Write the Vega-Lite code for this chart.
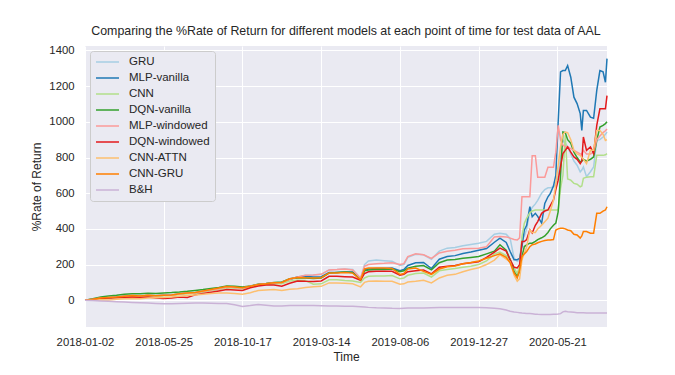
{
  "$schema": "https://vega.github.io/schema/vega-lite/v6.json",
  "width": 522,
  "height": 281,
  "autosize": {"type": "none"},
  "padding": {"left": 85, "top": 46, "right": 68, "bottom": 48},
  "title": {"text": "Comparing the %Rate of Return for different models at each point of time for test data of AAL", "fontSize": 12.4, "fontWeight": "normal", "color": "#262626", "font": "Liberation Sans", "offset": 7},
  "data": {"values": [
    {"t":0,"GRU":0,"MLP-vanilla":0,"CNN":0,"DQN-vanilla":0,"MLP-windowed":0,"DQN-windowed":0,"CNN-ATTN":0,"CNN-GRU":0,"B&H":0},
    {"t":10,"GRU":5,"MLP-vanilla":5,"CNN":4,"DQN-vanilla":8,"MLP-windowed":5,"DQN-windowed":4,"CNN-ATTN":0,"CNN-GRU":5,"B&H":-2},
    {"t":20,"GRU":12,"MLP-vanilla":12,"CNN":10,"DQN-vanilla":18,"MLP-windowed":12,"DQN-windowed":10,"CNN-ATTN":3,"CNN-GRU":12,"B&H":-4},
    {"t":30,"GRU":15,"MLP-vanilla":15,"CNN":13,"DQN-vanilla":24,"MLP-windowed":15,"DQN-windowed":12,"CNN-ATTN":2,"CNN-GRU":15,"B&H":-6},
    {"t":40,"GRU":18,"MLP-vanilla":18,"CNN":15,"DQN-vanilla":28,"MLP-windowed":18,"DQN-windowed":14,"CNN-ATTN":5,"CNN-GRU":18,"B&H":-8},
    {"t":50,"GRU":22,"MLP-vanilla":22,"CNN":19,"DQN-vanilla":33,"MLP-windowed":22,"DQN-windowed":16,"CNN-ATTN":8,"CNN-GRU":22,"B&H":-10},
    {"t":60,"GRU":26,"MLP-vanilla":25,"CNN":22,"DQN-vanilla":37,"MLP-windowed":26,"DQN-windowed":18,"CNN-ATTN":10,"CNN-GRU":26,"B&H":-12},
    {"t":70,"GRU":24,"MLP-vanilla":24,"CNN":22,"DQN-vanilla":36,"MLP-windowed":24,"DQN-windowed":15,"CNN-ATTN":8,"CNN-GRU":24,"B&H":-14},
    {"t":80,"GRU":27,"MLP-vanilla":27,"CNN":25,"DQN-vanilla":39,"MLP-windowed":27,"DQN-windowed":18,"CNN-ATTN":12,"CNN-GRU":28,"B&H":-16},
    {"t":90,"GRU":25,"MLP-vanilla":25,"CNN":22,"DQN-vanilla":38,"MLP-windowed":25,"DQN-windowed":12,"CNN-ATTN":14,"CNN-GRU":25,"B&H":-18},
    {"t":100,"GRU":28,"MLP-vanilla":28,"CNN":25,"DQN-vanilla":41,"MLP-windowed":28,"DQN-windowed":10,"CNN-ATTN":16,"CNN-GRU":28,"B&H":-20},
    {"t":110,"GRU":30,"MLP-vanilla":30,"CNN":27,"DQN-vanilla":43,"MLP-windowed":30,"DQN-windowed":12,"CNN-ATTN":18,"CNN-GRU":30,"B&H":-19},
    {"t":120,"GRU":35,"MLP-vanilla":35,"CNN":32,"DQN-vanilla":46,"MLP-windowed":35,"DQN-windowed":18,"CNN-ATTN":22,"CNN-GRU":36,"B&H":-18},
    {"t":130,"GRU":40,"MLP-vanilla":40,"CNN":36,"DQN-vanilla":50,"MLP-windowed":40,"DQN-windowed":15,"CNN-ATTN":26,"CNN-GRU":40,"B&H":-17},
    {"t":140,"GRU":42,"MLP-vanilla":42,"CNN":38,"DQN-vanilla":55,"MLP-windowed":42,"DQN-windowed":30,"CNN-ATTN":30,"CNN-GRU":44,"B&H":-16},
    {"t":150,"GRU":50,"MLP-vanilla":50,"CNN":46,"DQN-vanilla":60,"MLP-windowed":50,"DQN-windowed":38,"CNN-ATTN":34,"CNN-GRU":52,"B&H":-16},
    {"t":160,"GRU":58,"MLP-vanilla":58,"CNN":54,"DQN-vanilla":66,"MLP-windowed":58,"DQN-windowed":45,"CNN-ATTN":38,"CNN-GRU":60,"B&H":-17},
    {"t":170,"GRU":65,"MLP-vanilla":65,"CNN":60,"DQN-vanilla":72,"MLP-windowed":65,"DQN-windowed":52,"CNN-ATTN":40,"CNN-GRU":68,"B&H":-18},
    {"t":180,"GRU":75,"MLP-vanilla":75,"CNN":70,"DQN-vanilla":80,"MLP-windowed":75,"DQN-windowed":60,"CNN-ATTN":40,"CNN-GRU":77,"B&H":-18},
    {"t":190,"GRU":72,"MLP-vanilla":72,"CNN":68,"DQN-vanilla":78,"MLP-windowed":72,"DQN-windowed":58,"CNN-ATTN":38,"CNN-GRU":74,"B&H":-25},
    {"t":200,"GRU":68,"MLP-vanilla":68,"CNN":65,"DQN-vanilla":74,"MLP-windowed":68,"DQN-windowed":55,"CNN-ATTN":33,"CNN-GRU":70,"B&H":-35},
    {"t":210,"GRU":78,"MLP-vanilla":78,"CNN":74,"DQN-vanilla":80,"MLP-windowed":78,"DQN-windowed":70,"CNN-ATTN":42,"CNN-GRU":78,"B&H":-30},
    {"t":220,"GRU":88,"MLP-vanilla":88,"CNN":84,"DQN-vanilla":90,"MLP-windowed":88,"DQN-windowed":80,"CNN-ATTN":55,"CNN-GRU":88,"B&H":-24},
    {"t":230,"GRU":92,"MLP-vanilla":92,"CNN":88,"DQN-vanilla":94,"MLP-windowed":92,"DQN-windowed":85,"CNN-ATTN":58,"CNN-GRU":92,"B&H":-28},
    {"t":240,"GRU":98,"MLP-vanilla":98,"CNN":92,"DQN-vanilla":100,"MLP-windowed":98,"DQN-windowed":85,"CNN-ATTN":60,"CNN-GRU":98,"B&H":-32},
    {"t":250,"GRU":100,"MLP-vanilla":100,"CNN":92,"DQN-vanilla":102,"MLP-windowed":100,"DQN-windowed":78,"CNN-ATTN":55,"CNN-GRU":100,"B&H":-32},
    {"t":260,"GRU":118,"MLP-vanilla":118,"CNN":108,"DQN-vanilla":120,"MLP-windowed":118,"DQN-windowed":95,"CNN-ATTN":62,"CNN-GRU":120,"B&H":-30},
    {"t":270,"GRU":130,"MLP-vanilla":130,"CNN":112,"DQN-vanilla":125,"MLP-windowed":130,"DQN-windowed":108,"CNN-ATTN":65,"CNN-GRU":128,"B&H":-30},
    {"t":280,"GRU":140,"MLP-vanilla":135,"CNN":110,"DQN-vanilla":125,"MLP-windowed":140,"DQN-windowed":106,"CNN-ATTN":72,"CNN-GRU":126,"B&H":-30},
    {"t":290,"GRU":142,"MLP-vanilla":130,"CNN":90,"DQN-vanilla":122,"MLP-windowed":142,"DQN-windowed":105,"CNN-ATTN":75,"CNN-GRU":125,"B&H":-30},
    {"t":300,"GRU":145,"MLP-vanilla":132,"CNN":92,"DQN-vanilla":125,"MLP-windowed":145,"DQN-windowed":108,"CNN-ATTN":78,"CNN-GRU":126,"B&H":-31},
    {"t":310,"GRU":170,"MLP-vanilla":155,"CNN":115,"DQN-vanilla":152,"MLP-windowed":170,"DQN-windowed":134,"CNN-ATTN":97,"CNN-GRU":153,"B&H":-32},
    {"t":320,"GRU":172,"MLP-vanilla":155,"CNN":115,"DQN-vanilla":155,"MLP-windowed":172,"DQN-windowed":134,"CNN-ATTN":97,"CNN-GRU":153,"B&H":-32},
    {"t":330,"GRU":175,"MLP-vanilla":158,"CNN":110,"DQN-vanilla":158,"MLP-windowed":175,"DQN-windowed":132,"CNN-ATTN":95,"CNN-GRU":155,"B&H":-33},
    {"t":340,"GRU":172,"MLP-vanilla":158,"CNN":108,"DQN-vanilla":156,"MLP-windowed":170,"DQN-windowed":130,"CNN-ATTN":92,"CNN-GRU":152,"B&H":-34},
    {"t":350,"GRU":120,"MLP-vanilla":115,"CNN":100,"DQN-vanilla":115,"MLP-windowed":125,"DQN-windowed":112,"CNN-ATTN":75,"CNN-GRU":115,"B&H":-36},
    {"t":355,"GRU":200,"MLP-vanilla":170,"CNN":125,"DQN-vanilla":165,"MLP-windowed":190,"DQN-windowed":150,"CNN-ATTN":100,"CNN-GRU":175,"B&H":-38},
    {"t":360,"GRU":220,"MLP-vanilla":175,"CNN":134,"DQN-vanilla":170,"MLP-windowed":200,"DQN-windowed":160,"CNN-ATTN":106,"CNN-GRU":180,"B&H":-40},
    {"t":370,"GRU":225,"MLP-vanilla":178,"CNN":136,"DQN-vanilla":172,"MLP-windowed":205,"DQN-windowed":162,"CNN-ATTN":108,"CNN-GRU":180,"B&H":-42},
    {"t":380,"GRU":222,"MLP-vanilla":178,"CNN":136,"DQN-vanilla":172,"MLP-windowed":207,"DQN-windowed":162,"CNN-ATTN":106,"CNN-GRU":180,"B&H":-43},
    {"t":390,"GRU":218,"MLP-vanilla":180,"CNN":138,"DQN-vanilla":175,"MLP-windowed":210,"DQN-windowed":162,"CNN-ATTN":106,"CNN-GRU":178,"B&H":-45},
    {"t":400,"GRU":195,"MLP-vanilla":165,"CNN":120,"DQN-vanilla":160,"MLP-windowed":200,"DQN-windowed":140,"CNN-ATTN":90,"CNN-GRU":145,"B&H":-46},
    {"t":405,"GRU":200,"MLP-vanilla":172,"CNN":125,"DQN-vanilla":165,"MLP-windowed":205,"DQN-windowed":145,"CNN-ATTN":92,"CNN-GRU":150,"B&H":-45},
    {"t":410,"GRU":240,"MLP-vanilla":195,"CNN":140,"DQN-vanilla":180,"MLP-windowed":245,"DQN-windowed":160,"CNN-ATTN":102,"CNN-GRU":175,"B&H":-44},
    {"t":420,"GRU":258,"MLP-vanilla":210,"CNN":150,"DQN-vanilla":190,"MLP-windowed":260,"DQN-windowed":165,"CNN-ATTN":106,"CNN-GRU":180,"B&H":-43},
    {"t":430,"GRU":255,"MLP-vanilla":212,"CNN":152,"DQN-vanilla":194,"MLP-windowed":255,"DQN-windowed":170,"CNN-ATTN":112,"CNN-GRU":162,"B&H":-43},
    {"t":440,"GRU":230,"MLP-vanilla":178,"CNN":130,"DQN-vanilla":170,"MLP-windowed":235,"DQN-windowed":148,"CNN-ATTN":97,"CNN-GRU":145,"B&H":-42},
    {"t":450,"GRU":275,"MLP-vanilla":230,"CNN":165,"DQN-vanilla":210,"MLP-windowed":265,"DQN-windowed":185,"CNN-ATTN":125,"CNN-GRU":175,"B&H":-41},
    {"t":460,"GRU":292,"MLP-vanilla":245,"CNN":172,"DQN-vanilla":225,"MLP-windowed":275,"DQN-windowed":190,"CNN-ATTN":140,"CNN-GRU":188,"B&H":-40},
    {"t":470,"GRU":295,"MLP-vanilla":250,"CNN":178,"DQN-vanilla":228,"MLP-windowed":280,"DQN-windowed":195,"CNN-ATTN":145,"CNN-GRU":192,"B&H":-40},
    {"t":480,"GRU":305,"MLP-vanilla":262,"CNN":185,"DQN-vanilla":235,"MLP-windowed":288,"DQN-windowed":205,"CNN-ATTN":160,"CNN-GRU":205,"B&H":-40},
    {"t":490,"GRU":312,"MLP-vanilla":270,"CNN":190,"DQN-vanilla":240,"MLP-windowed":290,"DQN-windowed":210,"CNN-ATTN":172,"CNN-GRU":212,"B&H":-40},
    {"t":500,"GRU":320,"MLP-vanilla":280,"CNN":200,"DQN-vanilla":245,"MLP-windowed":292,"DQN-windowed":215,"CNN-ATTN":182,"CNN-GRU":220,"B&H":-41},
    {"t":510,"GRU":330,"MLP-vanilla":290,"CNN":220,"DQN-vanilla":260,"MLP-windowed":300,"DQN-windowed":240,"CNN-ATTN":200,"CNN-GRU":235,"B&H":-42},
    {"t":520,"GRU":370,"MLP-vanilla":325,"CNN":260,"DQN-vanilla":275,"MLP-windowed":355,"DQN-windowed":270,"CNN-ATTN":225,"CNN-GRU":250,"B&H":-45},
    {"t":527,"GRU":376,"MLP-vanilla":348,"CNN":270,"DQN-vanilla":311,"MLP-windowed":357,"DQN-windowed":292,"CNN-ATTN":255,"CNN-GRU":260,"B&H":-48},
    {"t":535,"GRU":370,"MLP-vanilla":324,"CNN":250,"DQN-vanilla":280,"MLP-windowed":355,"DQN-windowed":275,"CNN-ATTN":230,"CNN-GRU":240,"B&H":-55},
    {"t":540,"GRU":345,"MLP-vanilla":273,"CNN":230,"DQN-vanilla":227,"MLP-windowed":348,"DQN-windowed":227,"CNN-ATTN":215,"CNN-GRU":210,"B&H":-62},
    {"t":545,"GRU":236,"MLP-vanilla":227,"CNN":180,"DQN-vanilla":160,"MLP-windowed":340,"DQN-windowed":185,"CNN-ATTN":140,"CNN-GRU":153,"B&H":-66},
    {"t":549,"GRU":218,"MLP-vanilla":227,"CNN":150,"DQN-vanilla":134,"MLP-windowed":338,"DQN-windowed":181,"CNN-ATTN":106,"CNN-GRU":125,"B&H":-68},
    {"t":552,"GRU":225,"MLP-vanilla":235,"CNN":190,"DQN-vanilla":160,"MLP-windowed":350,"DQN-windowed":200,"CNN-ATTN":120,"CNN-GRU":170,"B&H":-70},
    {"t":555,"GRU":338,"MLP-vanilla":301,"CNN":357,"DQN-vanilla":245,"MLP-windowed":580,"DQN-windowed":329,"CNN-ATTN":227,"CNN-GRU":245,"B&H":-72},
    {"t":558,"GRU":360,"MLP-vanilla":394,"CNN":432,"DQN-vanilla":301,"MLP-windowed":580,"DQN-windowed":329,"CNN-ATTN":264,"CNN-GRU":260,"B&H":-73},
    {"t":561,"GRU":400,"MLP-vanilla":420,"CNN":460,"DQN-vanilla":310,"MLP-windowed":580,"DQN-windowed":340,"CNN-ATTN":300,"CNN-GRU":273,"B&H":-74},
    {"t":565,"GRU":500,"MLP-vanilla":524,"CNN":490,"DQN-vanilla":320,"MLP-windowed":580,"DQN-windowed":394,"CNN-ATTN":394,"CNN-GRU":300,"B&H":-75},
    {"t":568,"GRU":520,"MLP-vanilla":468,"CNN":500,"DQN-vanilla":320,"MLP-windowed":810,"DQN-windowed":377,"CNN-ATTN":380,"CNN-GRU":311,"B&H":-76},
    {"t":572,"GRU":540,"MLP-vanilla":487,"CNN":506,"DQN-vanilla":330,"MLP-windowed":810,"DQN-windowed":420,"CNN-ATTN":380,"CNN-GRU":315,"B&H":-78},
    {"t":575,"GRU":560,"MLP-vanilla":470,"CNN":506,"DQN-vanilla":340,"MLP-windowed":690,"DQN-windowed":441,"CNN-ATTN":400,"CNN-GRU":322,"B&H":-79},
    {"t":580,"GRU":600,"MLP-vanilla":432,"CNN":506,"DQN-vanilla":350,"MLP-windowed":690,"DQN-windowed":487,"CNN-ATTN":420,"CNN-GRU":330,"B&H":-80},
    {"t":584,"GRU":620,"MLP-vanilla":543,"CNN":506,"DQN-vanilla":360,"MLP-windowed":690,"DQN-windowed":500,"CNN-ATTN":440,"CNN-GRU":335,"B&H":-80},
    {"t":588,"GRU":630,"MLP-vanilla":580,"CNN":506,"DQN-vanilla":380,"MLP-windowed":745,"DQN-windowed":506,"CNN-ATTN":460,"CNN-GRU":338,"B&H":-80},
    {"t":591,"GRU":630,"MLP-vanilla":599,"CNN":506,"DQN-vanilla":400,"MLP-windowed":745,"DQN-windowed":530,"CNN-ATTN":500,"CNN-GRU":338,"B&H":-80},
    {"t":595,"GRU":636,"MLP-vanilla":640,"CNN":506,"DQN-vanilla":420,"MLP-windowed":745,"DQN-windowed":562,"CNN-ATTN":560,"CNN-GRU":340,"B&H":-79},
    {"t":598,"GRU":650,"MLP-vanilla":700,"CNN":506,"DQN-vanilla":432,"MLP-windowed":830,"DQN-windowed":620,"CNN-ATTN":650,"CNN-GRU":394,"B&H":-78},
    {"t":601,"GRU":700,"MLP-vanilla":1000,"CNN":506,"DQN-vanilla":496,"MLP-windowed":980,"DQN-windowed":673,"CNN-ATTN":760,"CNN-GRU":400,"B&H":-77},
    {"t":604,"GRU":800,"MLP-vanilla":1280,"CNN":627,"DQN-vanilla":700,"MLP-windowed":900,"DQN-windowed":750,"CNN-ATTN":859,"CNN-GRU":404,"B&H":-75},
    {"t":607,"GRU":896,"MLP-vanilla":1287,"CNN":700,"DQN-vanilla":943,"MLP-windowed":870,"DQN-windowed":822,"CNN-ATTN":930,"CNN-GRU":404,"B&H":-65},
    {"t":610,"GRU":880,"MLP-vanilla":1287,"CNN":924,"DQN-vanilla":940,"MLP-windowed":860,"DQN-windowed":840,"CNN-ATTN":943,"CNN-GRU":400,"B&H":-62},
    {"t":613,"GRU":860,"MLP-vanilla":1315,"CNN":680,"DQN-vanilla":900,"MLP-windowed":860,"DQN-windowed":859,"CNN-ATTN":940,"CNN-GRU":394,"B&H":-64},
    {"t":617,"GRU":820,"MLP-vanilla":1250,"CNN":673,"DQN-vanilla":880,"MLP-windowed":850,"DQN-windowed":830,"CNN-ATTN":900,"CNN-GRU":390,"B&H":-66},
    {"t":621,"GRU":780,"MLP-vanilla":1138,"CNN":655,"DQN-vanilla":830,"MLP-windowed":840,"DQN-windowed":803,"CNN-ATTN":840,"CNN-GRU":370,"B&H":-68},
    {"t":625,"GRU":757,"MLP-vanilla":1102,"CNN":650,"DQN-vanilla":800,"MLP-windowed":830,"DQN-windowed":790,"CNN-ATTN":820,"CNN-GRU":366,"B&H":-70},
    {"t":629,"GRU":720,"MLP-vanilla":1046,"CNN":636,"DQN-vanilla":775,"MLP-windowed":820,"DQN-windowed":766,"CNN-ATTN":812,"CNN-GRU":348,"B&H":-70},
    {"t":631,"GRU":730,"MLP-vanilla":952,"CNN":640,"DQN-vanilla":780,"MLP-windowed":820,"DQN-windowed":780,"CNN-ATTN":800,"CNN-GRU":360,"B&H":-70},
    {"t":633,"GRU":747,"MLP-vanilla":1064,"CNN":683,"DQN-vanilla":790,"MLP-windowed":840,"DQN-windowed":915,"CNN-ATTN":790,"CNN-GRU":385,"B&H":-70},
    {"t":637,"GRU":692,"MLP-vanilla":1064,"CNN":690,"DQN-vanilla":780,"MLP-windowed":820,"DQN-windowed":840,"CNN-ATTN":766,"CNN-GRU":385,"B&H":-71},
    {"t":642,"GRU":720,"MLP-vanilla":1026,"CNN":692,"DQN-vanilla":790,"MLP-windowed":820,"DQN-windowed":859,"CNN-ATTN":840,"CNN-GRU":376,"B&H":-71},
    {"t":646,"GRU":747,"MLP-vanilla":1020,"CNN":692,"DQN-vanilla":803,"MLP-windowed":830,"DQN-windowed":822,"CNN-ATTN":840,"CNN-GRU":376,"B&H":-71},
    {"t":650,"GRU":896,"MLP-vanilla":1176,"CNN":812,"DQN-vanilla":896,"MLP-windowed":900,"DQN-windowed":980,"CNN-ATTN":952,"CNN-GRU":487,"B&H":-71},
    {"t":654,"GRU":900,"MLP-vanilla":1287,"CNN":812,"DQN-vanilla":971,"MLP-windowed":920,"DQN-windowed":1073,"CNN-ATTN":952,"CNN-GRU":487,"B&H":-71},
    {"t":658,"GRU":915,"MLP-vanilla":1280,"CNN":812,"DQN-vanilla":980,"MLP-windowed":940,"DQN-windowed":1073,"CNN-ATTN":930,"CNN-GRU":500,"B&H":-71},
    {"t":661,"GRU":930,"MLP-vanilla":1222,"CNN":815,"DQN-vanilla":990,"MLP-windowed":950,"DQN-windowed":1073,"CNN-ATTN":896,"CNN-GRU":506,"B&H":-72},
    {"t":663,"GRU":943,"MLP-vanilla":1354,"CNN":822,"DQN-vanilla":1000,"MLP-windowed":960,"DQN-windowed":1147,"CNN-ATTN":900,"CNN-GRU":524,"B&H":-72}
  ]},
  "transform": [
    {"fold": ["GRU","MLP-vanilla","CNN","DQN-vanilla","MLP-windowed","DQN-windowed","CNN-ATTN","CNN-GRU","B&H"], "as": ["model","value"]}
  ],
  "mark": {"type": "line", "strokeWidth": 1.5, "interpolate": "linear"},
  "encoding": {
    "x": {"field": "t", "type": "quantitative",
      "scale": {"domain": [0, 663], "nice": false, "zero": false},
      "axis": {"title": "Time", "values": [0,100,200,300,400,500,600], "labelOverlap": false, "labelFlush": false, "labelBound": false,
        "labelExpr": "['2018-01-02','2018-05-25','2018-10-17','2019-03-14','2019-08-06','2019-12-27','2020-05-21'][round(datum.value/100)]",
        "labelPadding": 9, "titlePadding": 4}},
    "y": {"field": "value", "type": "quantitative",
      "scale": {"domain": [-150, 1425], "nice": false, "zero": false},
      "axis": {"title": "%Rate of Return", "format": "d", "values": [0,200,400,600,800,1000,1200,1400], "labelPadding": 11, "titlePadding": 5}},
    "color": {"field": "model", "type": "nominal",
      "scale": {"domain": ["GRU","MLP-vanilla","CNN","DQN-vanilla","MLP-windowed","DQN-windowed","CNN-ATTN","CNN-GRU","B&H"],
        "range": ["#a6cee3","#1f78b4","#b2df8a","#33a02c","#fb9a99","#e31a1c","#fdbf6f","#ff7f00","#cab2d6"]},
      "legend": {"orient": "none", "legendX": 5, "legendY": 5, "title": null,
        "symbolType": "M-1,0H3.6", "symbolSize": 100, "symbolStrokeWidth": 1.5,
        "labelFontSize": 11.5, "labelOffset": 22, "padding": 5, "rowPadding": 4,
        "fillColor": "#EAEAF2", "strokeColor": "#CCCCCC", "cornerRadius": 3, "labelColor": "#262626", "labelFont": "Liberation Sans"}}
  },
  "config": {
    "font": "Liberation Sans",
    "view": {"fill": "#EAEAF2", "stroke": null},
    "axis": {"domain": false, "ticks": false, "grid": true, "gridColor": "#FFFFFF", "gridWidth": 1,
      "labelFont": "Liberation Sans", "labelFontSize": 11.3, "labelColor": "#262626",
      "titleFont": "Liberation Sans", "titleFontSize": 12, "titleFontWeight": "normal", "titleColor": "#262626"}
  }
}
